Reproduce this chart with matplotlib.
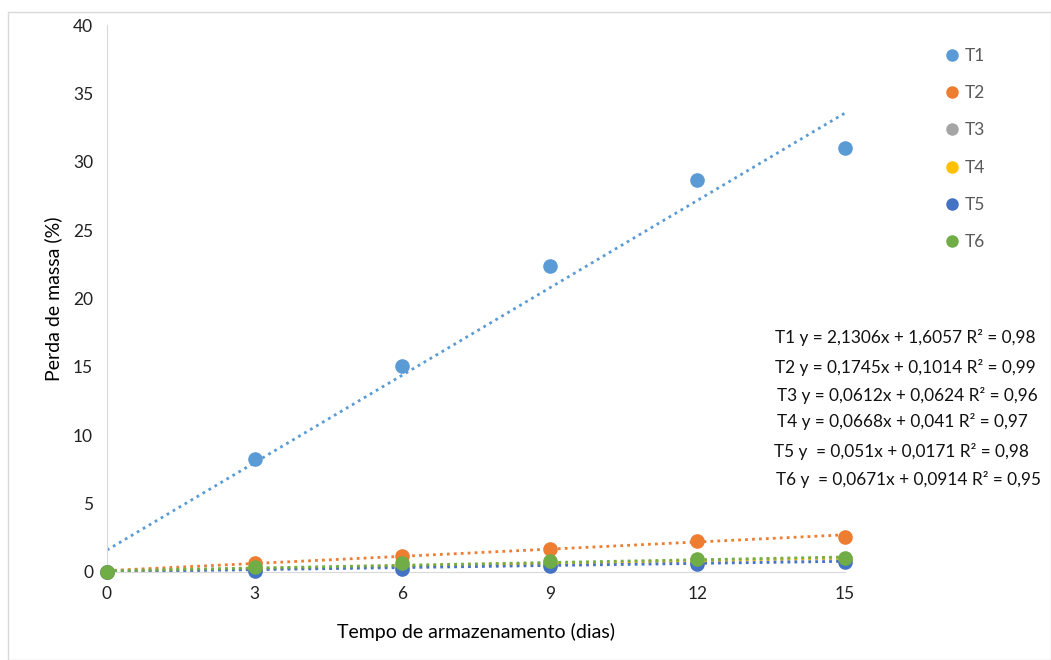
import matplotlib.pyplot as plt
import numpy as np
from matplotlib.patches import Rectangle

plt.rcParams['font.family'] = ['Lato', 'DejaVu Sans']

# storage time (days)
dias = [0, 3, 6, 9, 12, 15]

# mass loss (%) per treatment
t1 = [0.0, 8.25, 15.05, 22.4, 28.65, 31.0]
t2 = [0.0, 0.65, 1.2, 1.7, 2.27, 2.55]
t3 = [0.0, 0.25, 0.45, 0.62, 0.82, 0.95]
t4 = [0.0, 0.2, 0.45, 0.65, 0.85, 0.97]
t5 = [0.0, 0.05, 0.25, 0.42, 0.6, 0.72]
t6 = [0.0, 0.37, 0.63, 0.82, 0.94, 1.05]

nomes = ['T1', 'T2', 'T3', 'T4', 'T5', 'T6']
cores = ['#5B9BD5', '#ED7D31', '#A5A5A5', '#FFC000', '#4472C4', '#70AD47']

# trendline coefficients (from the chart)
slopes = [2.1306, 0.1745, 0.0612, 0.0668, 0.051, 0.0671]
intercepts = [1.6057, 0.1014, 0.0624, 0.041, 0.0171, 0.0914]
equacoes = ['T1 y = 2,1306x + 1,6057 R\u00b2 = 0,98',
            'T2 y = 0,1745x + 0,1014 R\u00b2 = 0,99',
            'T3 y = 0,0612x + 0,0624 R\u00b2 = 0,96',
            'T4 y = 0,0668x + 0,041 R\u00b2 = 0,97',
            'T5 y  = 0,051x + 0,0171 R\u00b2 = 0,98',
            'T6 y  = 0,0671x + 0,0914 R\u00b2 = 0,95']

series = [t1, t2, t3, t4, t5, t6]

fig = plt.figure(figsize=[10.51, 6.60], dpi=100)
ax = fig.add_axes([107/1051, 1 - 572/660, (845-107)/1051, (572-25)/660])

xs = np.array([0, 15])
handles = []
for vals, nome, cor, a, b in zip(series, nomes, cores, slopes, intercepts):
    ax.plot(xs, a*xs + b, linestyle=(0, (1, 1.5)), color=cor, linewidth=2, zorder=2)
for vals, nome, cor in zip(series, nomes, cores):
    h, = ax.plot(dias, vals, 'o', color=cor, markersize=9.5, linestyle='none',
                 zorder=3, label=nome, clip_on=False)
    handles.append(h)

ax.set_xlim(0, 15)
ax.set_ylim(0, 40)
ax.set_xticks(dias)
ax.set_yticks(range(0, 41, 5))
ax.tick_params(length=0, labelsize=12.5, colors='#222222', pad=10)
for s in ['top', 'right']:
    ax.spines[s].set_visible(False)
for s in ['left', 'bottom']:
    ax.spines[s].set_color('#D9D9D9')
ax.set_xlabel('Tempo de armazenamento (dias)', fontsize=14, labelpad=15)
ax.set_ylabel('Perda de massa (%)', fontsize=14, labelpad=8)

leg = fig.legend(handles=[plt.Line2D([], [], marker='o', color=c, linestyle='none', markersize=8)
                          for c in cores],
                 labels=nomes, loc='upper left', bbox_to_anchor=(923/1051, 1 - 32/660),
                 frameon=False, fontsize=12.5, labelspacing=1.23, handletextpad=0.0,
                 handlelength=1.5)
for t in leg.get_texts():
    t.set_color('#595959')

ypos = [337, 368, 395, 422, 451, 479]
xpos = [775, 775, 777, 777, 774, 776]
for eq, yp, xp in zip(equacoes, ypos, xpos):
    fig.text(xp/1051, 1 - yp/660, eq, fontsize=12.4, va='center', ha='left', color='#111111')

fig.patches.append(Rectangle((8/1051, 0), 1 - 8/1051, 1 - 12/660, transform=fig.transFigure,
                             fill=False, edgecolor='#D9D9D9', linewidth=1))

fig.savefig('out.png', dpi=100)
